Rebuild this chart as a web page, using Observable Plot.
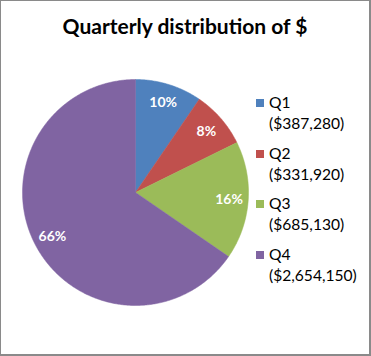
<!DOCTYPE html>
<html>
<head>
<meta charset="utf-8">
<script src="https://cdn.jsdelivr.net/npm/d3@7"></script>
<script src="https://cdn.jsdelivr.net/npm/@observablehq/plot@0.6"></script>
<style>
  html, body { margin: 0; padding: 0; background: #fff; }
  #chart { position: relative; width: 371px; height: 356px; box-sizing: border-box;
           border-left: 1px solid #8a8a8a; border-top: 1px solid #8a8a8a;
           border-right: 2px solid #8a8a8a; border-bottom: 2px solid #8a8a8a;
           font-family: Lato, "Open Sans", sans-serif; overflow: hidden; }
  #title { position: absolute; left: 0; top: 12px; width: 100%; text-align: center;
           font-weight: bold; font-size: 21px; color: #000; }
  #pie { position: absolute; left: 20px; top: 77px; }
  #legend { position: absolute; left: 254px; top: 91px; font-size: 15.6px; color: #000; }
  .item { position: relative; height: 50.5px; padding-left: 14px; line-height: 21px; }
  .sw { position: absolute; left: 1px; top: 7px; width: 8px; height: 8px; }
</style>
</head>
<body>
<div id="chart">
  <div id="title">Quarterly distribution of $</div>
  <div id="pie"></div>
  <div id="legend"></div>
</div>
<script>
const quarters = ["Q1", "Q2", "Q3", "Q4"];
const amounts = [387280, 331920, 685130, 2654150];
const pctLabels = ["10%", "8%", "16%", "66%"];
const amountLabels = ["($387,280)", "($331,920)", "($685,130)", "($2,654,150)"];
const colors = ["#4F81BD", "#C0504D", "#9BBB59", "#8064A2"];

const rows = quarters.map((q, i) => ({q, value: amounts[i], label: pctLabels[i]}));
const arcs = d3.pie().sort(null).value(d => d.value)(rows);

// polygon points for each slice (angle clockwise from 12 o'clock)
const pts = [];
arcs.forEach(a => {
  const n = Math.max(2, Math.ceil((a.endAngle - a.startAngle) / 0.01));
  pts.push({q: a.data.q, x: 0, y: 0});
  for (let k = 0; k <= n; k++) {
    const t = a.startAngle + (a.endAngle - a.startAngle) * k / n;
    pts.push({q: a.data.q, x: Math.sin(t), y: Math.cos(t)});
  }
  pts.push({q: a.data.q, x: 0, y: 0});
});
const labelPts = arcs.map(a => {
  const m = (a.startAngle + a.endAngle) / 2;
  return {label: a.data.label, x: 0.83 * Math.sin(m), y: 0.83 * Math.cos(m)};
});

const R = 113;
const plot = Plot.plot({
  width: 2 * R + 2, height: 2 * R + 2, margin: 1,
  x: {domain: [-1, 1], axis: null},
  y: {domain: [-1, 1], axis: null},
  color: {domain: quarters, range: colors},
  style: {fontFamily: "Lato, 'Open Sans', sans-serif", background: "transparent"},
  marks: [
    Plot.line(pts, {x: "x", y: "y", z: "q", fill: "q", stroke: "q", strokeWidth: 0.5, curve: "linear"}),
    Plot.text(labelPts, {x: "x", y: "y", text: "label", fill: "white", fontWeight: "bold", fontSize: 14})
  ]
});
document.getElementById("pie").appendChild(plot);

const legend = document.getElementById("legend");
quarters.forEach((q, i) => {
  const d = document.createElement("div");
  d.className = "item";
  d.innerHTML = `<span class="sw" style="background:${colors[i]}"></span>${q}<br>${amountLabels[i]}`;
  legend.appendChild(d);
});
</script>
</body>
</html>
